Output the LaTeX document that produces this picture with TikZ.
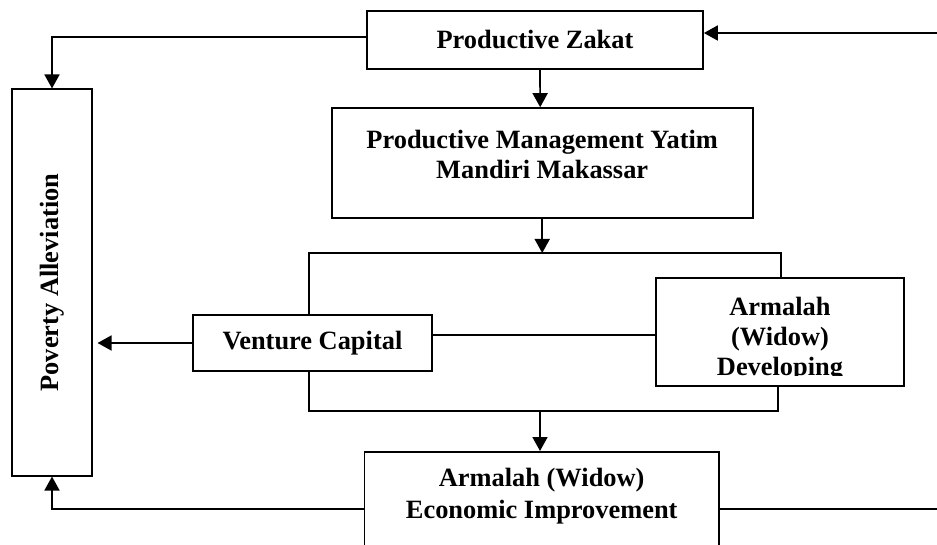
\documentclass[tikz,border=0pt]{standalone}
\usepackage{fontspec}
\setmainfont{Liberation Serif}
\usetikzlibrary{arrows.meta}
\begin{document}
\begin{tikzpicture}[x=1pt,y=-1pt,
  boxnode/.style={draw, line width=1.7pt, rectangle, inner sep=0pt, align=center,
    font=\bfseries\fontsize{26.4}{30}\selectfont},
  txt/.style={inner sep=0pt, align=center, font=\bfseries\fontsize{26.4}{30}\selectfont},
  conn/.style={line width=1.7pt},
  arr/.style={conn, -{Triangle[length=14pt,width=15pt]}}]
\clip (0,0) rectangle (937,545);
\fill[white] (0,0) rectangle (937,545);
% boxes
\node[boxnode, minimum width=336pt, minimum height=58pt] (PZ) at (535,40) {Productive Zakat};
\node[boxnode, minimum width=421pt, minimum height=109.7pt] (PM) at (542.2,162.9) {};
\node[txt] (PMt) at (542.2,154.5) {Productive Management Yatim\\Mandiri Makassar};
\node[boxnode, minimum width=238.4pt, minimum height=56pt] (VC) at (312.5,343) {Venture Capital};
\node[boxnode, minimum width=248.6pt, minimum height=107.4pt] (AD) at (780,332) {};
\coordinate (clipy) at (0,375);
\begin{scope}
  \clip (AD.north west) rectangle (AD.east |- clipy);
  \node[txt] (ADt) at (780,339.3) {Armalah\\(Widow)\\Developing};
\end{scope}
\node[boxnode, minimum width=354.7pt, minimum height=120pt, anchor=north] (EC) at (541.7,451) {};
\node[txt] (ECt) at (541.7,496.5) {Armalah (Widow)\\[2pt]Economic Improvement};
\node[boxnode, minimum width=80pt, minimum height=386.4pt] (PA) at (52,282.5) {};
\node[txt, rotate=90] (PAt) at (PA.center) {Poverty Alleviation};
% helper coordinates
\coordinate (rin) at (937,33);
\coordinate (rout) at (937,509);
\coordinate (ly) at (0,509);
\coordinate (tl) at (309.3,253);
\coordinate (tr) at (781,253);
\coordinate (tm) at (540,253);
\coordinate (bl) at (309.3,410.7);
\coordinate (br) at (777.7,410.7);
\coordinate (bm) at (540,410.7);
\coordinate (mid) at (540,335);
% connectors
\draw[arr] ([yshift=3pt]PZ.west) -| (PA.north);
\draw[arr] (rin) -- (rin -| PZ.east);
\draw[arr] ([xshift=5pt]PZ.south) -- ([xshift=-2pt]PM.north);
\draw[arr] (PM.south) -- (PM.south |- tm);
\draw[conn] (VC.north -| tl) -- (tl) -- (tr) -- (tr |- AD.north);
\draw[conn] (VC.east |- mid) -- (AD.west |- mid);
\draw[arr, shorten >=4.7pt] (VC.west) -- (VC.west -| PA.east);
\draw[conn] (VC.south -| bl) -- (bl) -- (br) -- (br |- AD.south);
\draw[arr] (bm) -- (bm |- EC.north);
\draw[arr] (EC.west |- ly) -| (PA.south);
\draw[conn] (EC.east |- rout) -- (rout);
\end{tikzpicture}
\end{document}
